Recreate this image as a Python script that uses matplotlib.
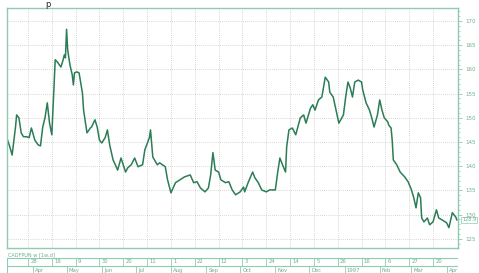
import numpy as np
import matplotlib
matplotlib.use("Agg")
import matplotlib.pyplot as plt
import matplotlib.dates as mdates
from matplotlib.ticker import MultipleLocator, FixedLocator

# daily closes (days counted from 28 Mar 1996)
start = np.datetime64("1996-03-28")
days = [-18, -16, -14, -11, -10, -8, -6, -4, -1, 1, 3, 4, 6, 9, 11, 13, 15, 17, 19, 21,
        22, 24, 26, 29, 31, 32, 33, 34, 35, 37, 39, 40, 41, 43, 45, 48, 49, 52, 55, 56,
        59, 61, 63, 65, 68, 70, 72, 75, 77, 79, 82, 86, 88, 91, 94, 97, 101, 103, 107, 108,
        110, 114, 116, 121, 123, 126, 130, 134, 138, 143, 146, 149, 152, 156, 159, 161, 163, 165, 168, 170,
        174, 177, 180, 183, 187, 190, 191, 194, 198, 200, 203, 206, 210, 213, 218, 220, 222, 225, 227, 228,
        230, 233, 236, 240, 243, 245, 249, 251, 253, 256, 259, 262, 265, 266, 269, 272, 274, 278, 280, 282,
        284, 286, 288, 291, 294, 295, 298, 301, 303, 305, 308, 310, 312, 314, 317, 318, 320, 321, 322, 325,
        328, 332, 335, 338, 340, 342, 344, 346, 347, 349, 352, 354, 357, 360, 362, 365, 369, 371, 374, 377, 378]
close = [145.4, 144.0, 142.3, 148.1, 150.6, 150.0, 146.9, 146.1, 146.1, 145.9, 147.9, 147.1, 145.4, 144.4, 144.2, 148.1, 150.0, 153.1, 148.9, 146.5,
         151.6, 162.0, 161.5, 160.5, 162.0, 163.0, 162.4, 168.3, 164.0, 160.9, 158.9, 156.8, 159.3, 159.5, 159.3, 155.1, 151.6, 146.9, 147.9, 148.1,
         149.6, 148.1, 145.4, 144.8, 145.9, 147.5, 144.4, 141.3, 140.3, 139.2, 141.7, 138.8, 139.7, 140.3, 141.7, 139.9, 140.3, 143.4, 145.9, 147.5,
         141.9, 140.3, 140.7, 139.9, 137.2, 134.5, 136.6, 137.2, 137.8, 138.2, 136.6, 136.8, 135.5, 134.7, 135.5, 138.2, 142.8, 139.2, 138.8, 137.2,
         136.6, 136.8, 135.1, 134.1, 134.7, 135.7, 134.7, 136.6, 138.8, 137.6, 136.6, 135.1, 134.7, 135.1, 135.1, 138.6, 141.7, 139.9, 138.8, 144.0,
         147.5, 147.9, 146.5, 150.0, 150.6, 148.9, 152.0, 152.7, 151.6, 153.7, 154.3, 158.4, 157.4, 155.3, 154.3, 151.0, 148.9, 150.6, 154.3, 157.4,
         156.2, 154.3, 157.4, 157.8, 157.4, 155.8, 153.1, 151.6, 150.0, 148.1, 150.6, 153.7, 151.6, 150.0, 149.2, 148.5, 147.9, 145.4, 141.3, 140.3,
         138.8, 137.8, 136.8, 135.1, 133.5, 131.4, 134.5, 133.5, 129.3, 128.5, 129.3, 127.9, 128.5, 131.0, 129.3, 128.9, 128.3, 127.3, 130.4, 129.5, 128.9]

y_ticks = [125, 130, 135, 140, 145, 150, 155, 160, 165, 170]
tick_dates = ["1996-03-28", "1996-04-18", "1996-05-09", "1996-05-30", "1996-06-20", "1996-07-11",
              "1996-08-01", "1996-08-22", "1996-09-12", "1996-10-03", "1996-10-24", "1996-11-14",
              "1996-12-05", "1996-12-26", "1997-01-16", "1997-02-06", "1997-02-27", "1997-03-20"]
month_dates = ["1996-04-01", "1996-05-01", "1996-06-01", "1996-07-01", "1996-08-01", "1996-09-01",
               "1996-10-01", "1996-11-01", "1996-12-01", "1997-01-01", "1997-02-01", "1997-03-01",
               "1997-04-01"]
month_labels = ["Apr", "May", "Jun", "Jul", "Aug", "Sep", "Oct", "Nov", "Dec", "1997", "Feb", "Mar", "Apr"]
legend_text = "CADFPUN w [1w,d]"

line_c = "#2b7d55"
frame_c = "#8fcbb0"
text_c = "#6fae90"
grid_c = "#c8c8c8"

W, H = 479, 273
fig = plt.figure(figsize=(W / 100, H / 100), dpi=100)
fig.patch.set_facecolor("white")

dates = start + np.array(days).astype("timedelta64[D]")
x0 = mdates.date2num(start - np.timedelta64(18, "D")) - 0.5
x1 = mdates.date2num(start + np.timedelta64(379, "D"))

ax = fig.add_axes([7 / W, 25 / H, 451 / W, 240 / H])
ax.plot(dates, close, color=line_c, lw=1.1)
ax.set_xlim(x0, x1)
ax.set_ylim(123.1, 172.7)

tick_nums = [mdates.date2num(np.datetime64(d)) for d in tick_dates]
ax.xaxis.set_major_locator(FixedLocator(tick_nums))
ax.tick_params(axis="x", length=0, labelbottom=False)
ax.yaxis.tick_right()
ax.set_yticks(y_ticks)
ax.set_yticklabels([str(v) for v in y_ticks])
ax.yaxis.set_minor_locator(MultipleLocator(1))
ax.tick_params(axis="y", which="major", length=3, width=0.6, color=frame_c,
               labelsize=4, labelcolor=text_c, pad=2)
ax.tick_params(axis="y", which="minor", length=1.5, width=0.5, color=frame_c)
ax.grid(True, color=grid_c, ls=(0, (1, 1.5)), lw=0.6)
for s in ax.spines.values():
    s.set_color(frame_c)
    s.set_linewidth(1.0)

# last price box
last = close[-1]
ax.annotate("%.1f" % last, xy=(1.0, last), xycoords=("axes fraction", "data"),
            xytext=(3, 0), textcoords="offset points", fontsize=3.6, color=text_c,
            va="center", ha="left",
            bbox=dict(boxstyle="square,pad=0.15", fc="white", ec=frame_c, lw=0.5),
            annotation_clip=False)

fig.text(8 / W, 1 - 255 / H, legend_text, fontsize=3.6, color=text_c, va="center")

# date strip under the chart
ax2 = fig.add_axes([7 / W, 0, 451 / W, 16 / H])
ax2.set_xlim(x0, x1)
ax2.set_ylim(0, 1)
ax2.axis("off")
ax2.axhline(0.94, color=frame_c, lw=0.8)
ax2.axhline(0.44, color=frame_c, lw=0.8)
ax2.axvline(x0, ymin=0.0, ymax=0.94, color=frame_c, lw=0.8)
for d, t in zip(tick_nums, tick_dates):
    ax2.plot([d, d], [0.44, 0.94], color=frame_c, lw=0.6)
    ax2.text(d + 2, 0.69, str(int(t[-2:])), fontsize=3.8, color=text_c, va="center", ha="left")
for m, lab in zip(month_dates, month_labels):
    mn = mdates.date2num(np.datetime64(m))
    ax2.plot([mn, mn], [0.0, 0.44], color=frame_c, lw=0.6)
    ax2.text(mn + 2, 0.17, lab, fontsize=3.8, color=text_c, va="center", ha="left")

# title fragment at the very top
fig.text(45 / W, 1.0, "p", fontsize=6, color="#222222", va="top")

fig.savefig("out.png", dpi=100, facecolor="white")
